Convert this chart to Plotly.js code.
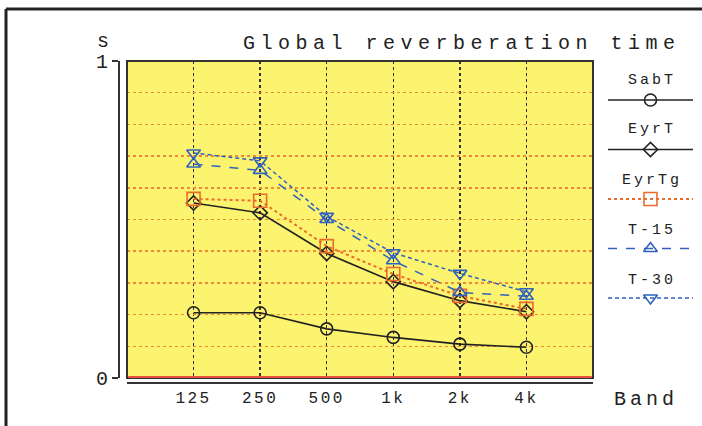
<!DOCTYPE html>
<html>
<head>
<meta charset="utf-8">
<script src="https://cdn.plot.ly/plotly-3.0.1.min.js"></script>
<style>
  body { margin: 0; padding: 0; background: #fff; }
  #chart { width: 702px; height: 426px; }
  .xtick text { letter-spacing: 2.5px; }
</style>
</head>
<body>
<div id="chart"></div>
<script>
// ---- data ----
const bands = ['125', '250', '500', '1k', '2k', '4k'];
const sabT  = [0.206, 0.206, 0.155, 0.128, 0.107, 0.097];
const eyrT  = [0.552, 0.521, 0.393, 0.304, 0.244, 0.209];
const eyrTg = [0.565, 0.559, 0.416, 0.328, 0.259, 0.218];
const t15   = [0.675, 0.655, 0.500, 0.370, 0.270, 0.258];
const t30   = [0.710, 0.685, 0.510, 0.395, 0.330, 0.272];
const seriesNames = ['SabT', 'EyrT', 'EyrTg', 'T-15', 'T-30'];
const yTickVals = [0, 1];
const yTickText = ['0', '1'];
const titleText = 'Global reverberation time';
const yUnit = 's';
const xLabel = 'Band';

// ---- styles ----
const W = 702, H = 426;
const px = x => x / W;
const py = y => 1 - y / H;
const BLUE = '#2f62bf', ORANGE = '#ec6a2c', DARK = '#222222';
const styles = [
  { color: DARK,   dash: 'solid', width: 1.6, symbol: 'circle-open',        size: 12 },
  { color: DARK,   dash: 'solid', width: 1.6, symbol: 'diamond-open',       size: 11 },
  { color: ORANGE, dash: 'dot',   width: 2,   symbol: 'square-open',        size: 13 },
  { color: BLUE,   dash: 'dash',  width: 1.5, symbol: 'triangle-up-open',   size: 12 },
  { color: BLUE,   dash: '4px,3px', width: 1.5, symbol: 'triangle-down-open', size: 12 }
];
const values = [sabT, eyrT, eyrTg, t15, t30];

const traces = [];
values.forEach((v, i) => {
  const s = styles[i];
  traces.push({
    x: bands, y: v, name: seriesNames[i], type: 'scatter', mode: 'lines+markers',
    xaxis: 'x', yaxis: 'y',
    line: { color: s.color, dash: s.dash, width: s.width },
    marker: { symbol: s.symbol, size: s.size, color: s.color, line: { color: s.color, width: 1.6 } },
    hoverinfo: 'skip'
  });
});
// helper so overlay axis with labels is drawn
traces.push({ x: bands, y: sabT, xaxis: 'x', yaxis: 'y3', mode: 'none', type: 'scatter', hoverinfo: 'skip', showlegend: false });

// custom legend samples (line with marker in middle)
const legTextY = [80, 130, 180, 230, 280];
styles.forEach((s, i) => {
  traces.push({
    x: [0, 1], y: [i, i], xaxis: 'x2', yaxis: 'y2', mode: 'lines', type: 'scatter',
    line: { color: s.color, dash: s.dash, width: s.width }, hoverinfo: 'skip', showlegend: false
  });
  traces.push({
    x: [0.5], y: [i], xaxis: 'x2', yaxis: 'y2', mode: 'markers', type: 'scatter',
    marker: { symbol: s.symbol, size: s.size, color: s.color, line: { color: s.color, width: 1.6 } },
    hoverinfo: 'skip', showlegend: false
  });
});

const annotations = [];
seriesNames.forEach((n, i) => {
  annotations.push({
    text: '<span style="letter-spacing:3px">' + n + '</span>',
    xref: 'paper', yref: 'paper', x: px(652), y: py(legTextY[i]),
    xanchor: 'center', yanchor: 'middle', showarrow: false,
    font: { family: 'Liberation Mono, monospace', size: 15, color: DARK }
  });
});
annotations.push({
  text: yUnit, xref: 'paper', yref: 'paper', x: px(103), y: py(42),
  xanchor: 'center', yanchor: 'middle', showarrow: false,
  font: { family: 'Liberation Mono, monospace', size: 20, color: DARK }
});
annotations.push({
  text: '<span style="letter-spacing:4px">' + xLabel + '</span>', xref: 'paper', yref: 'paper',
  x: px(612), y: py(399), xanchor: 'left', yanchor: 'middle', showarrow: false,
  font: { family: 'Liberation Mono, monospace', size: 20, color: DARK }
});

const layout = {
  width: W, height: H,
  margin: { l: 0, r: 0, t: 0, b: 0 },
  paper_bgcolor: '#ffffff',
  plot_bgcolor: 'rgba(0,0,0,0)',
  showlegend: false,
  font: { family: 'Liberation Mono, monospace', color: DARK },
  title: {
    text: '<span style="letter-spacing:5.5px">' + titleText + '</span>',
    xref: 'paper', yref: 'paper', x: px(243), xanchor: 'left', y: py(42), yanchor: 'middle',
    font: { family: 'Liberation Mono, monospace', size: 20, color: DARK }
  },
  xaxis: {
    type: 'category', domain: [px(127), px(593)], range: [-1, 6],
    anchor: 'free', position: py(383),
    showline: true, linecolor: '#333', linewidth: 2,
    showgrid: true, gridcolor: '#333', griddash: 'dot', gridwidth: 1.5,
    ticks: '', tickfont: { size: 16, color: DARK }, zeroline: false, fixedrange: true
  },
  yaxis: {
    domain: [py(378), py(61)], range: [0, 1], tick0: 0, dtick: 0.1,
    anchor: 'x', showticklabels: false, ticks: '', showline: false,
    showgrid: true, gridcolor: '#f08a3a', griddash: 'dot', gridwidth: 1.5,
    zeroline: false, fixedrange: true
  },
  yaxis3: {
    overlaying: 'y', range: [0, 1], anchor: 'free', position: px(119), side: 'left',
    tickmode: 'array', tickvals: yTickVals, ticktext: yTickText,
    ticks: 'outside', ticklen: 6, tickcolor: '#333', tickwidth: 1.5,
    showline: true, linecolor: '#333', linewidth: 2, showgrid: false, zeroline: false,
    tickfont: { size: 20, color: DARK }, fixedrange: true
  },
  xaxis2: { domain: [px(608), px(693)], range: [0, 1], anchor: 'y2', visible: false, fixedrange: true },
  yaxis2: { domain: [py(322.75), py(75.25)], range: [4.5, -0.5], anchor: 'x2', visible: false, fixedrange: true },
  shapes: [
    { type: 'rect', xref: 'x domain', yref: 'y domain', x0: 0, x1: 1, y0: 0, y1: 1,
      fillcolor: '#fcf46e', line: { width: 0 }, layer: 'below' },
    { type: 'rect', xref: 'x domain', yref: 'y domain', x0: 0, x1: 1, y0: 0, y1: 1,
      line: { color: '#333', width: 2 }, layer: 'above' },
    { type: 'line', xref: 'x domain', yref: 'y domain', x0: 0.003, x1: 0.997, y0: 0.003, y1: 0.003,
      line: { color: '#e8503a', width: 2 }, layer: 'above' },
    { type: 'line', xref: 'paper', yref: 'paper', x0: px(6), x1: 1, y0: py(9), y1: py(9),
      line: { color: '#222', width: 3 } },
    { type: 'line', xref: 'paper', yref: 'paper', x0: px(6), x1: px(6), y0: py(9), y1: 0,
      line: { color: '#222', width: 3 } }
  ],
  annotations: annotations
};

Plotly.newPlot('chart', traces, layout, { staticPlot: true, displayModeBar: false });
</script>
</body>
</html>
